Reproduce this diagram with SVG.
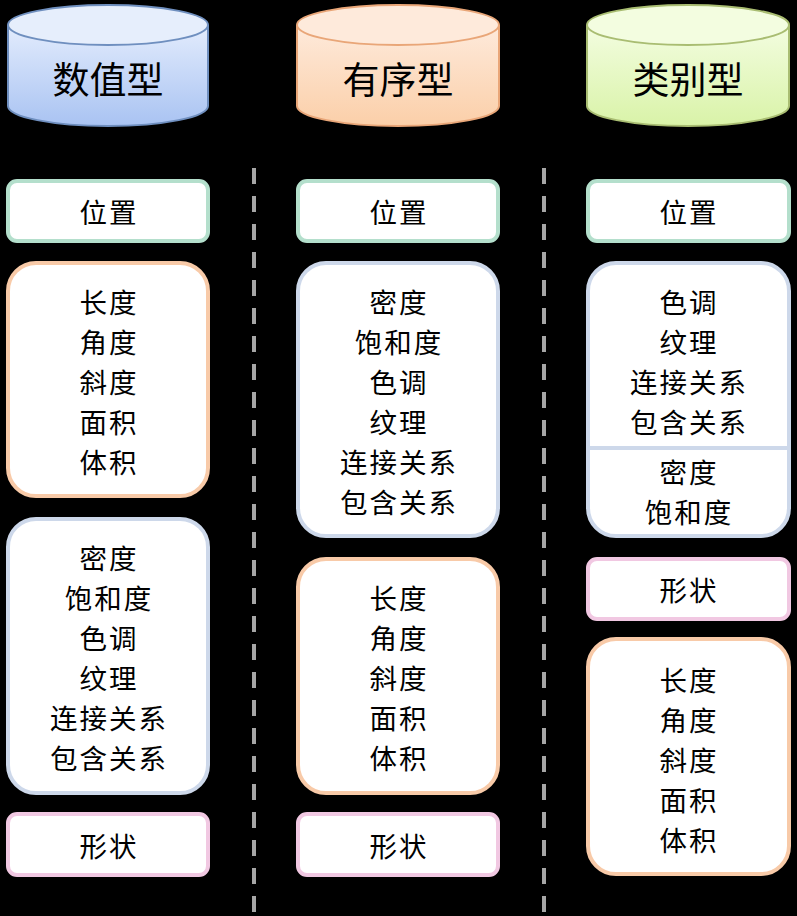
<svg xmlns="http://www.w3.org/2000/svg" width="797" height="916" viewBox="0 0 797 916">
<defs>
<linearGradient id="gBlue" x1="0" y1="0" x2="0" y2="1"><stop offset="0" stop-color="#e3ecfd"/><stop offset="1" stop-color="#a9c3f2"/></linearGradient>
<linearGradient id="gOrange" x1="0" y1="0" x2="0" y2="1"><stop offset="0" stop-color="#feeadb"/><stop offset="1" stop-color="#fbcfa9"/></linearGradient>
<linearGradient id="gGreen" x1="0" y1="0" x2="0" y2="1"><stop offset="0" stop-color="#f3fde0"/><stop offset="1" stop-color="#d9f3a8"/></linearGradient>
<style>
text{font-family:"Noto Sans CJK SC","Noto Sans",sans-serif;fill:#000;text-anchor:middle;dominant-baseline:central}
.t{font-size:27.5px;letter-spacing:2px}
.h{font-size:37px}
.box{fill:#fff;stroke-width:4}
.g{stroke:#b4dfcc}
.o{stroke:#f8caa8}
.b{stroke:#cdd8ea}
.p{stroke:#f1c8e2}
.dash{stroke:#a6a6a6;stroke-width:4;stroke-dasharray:16 12;fill:none}
</style>
</defs>
<rect width="797" height="916" fill="#000"/>
<g id="connectors">
<line class="dash" x1="254" y1="168" x2="254" y2="912"/>
<line class="dash" x1="544" y1="168" x2="544" y2="912"/>
</g>
<g id="cyl-numeric">
<path d="M8,25 V106 A100,20 0 0 0 208,106 V25" fill="url(#gBlue)" stroke="#6f8fbf" stroke-width="2"/>
<ellipse cx="108" cy="25" rx="100" ry="20" fill="#e6eefc" stroke="#6f8fbf" stroke-width="2"/>
<text class="h" x="108" y="78">数值型</text>
</g>
<g id="cyl-ordinal">
<path d="M297,25 V106 A101,20 0 0 0 499,106 V25" fill="url(#gOrange)" stroke="#e9a678" stroke-width="2"/>
<ellipse cx="398" cy="25" rx="101" ry="20" fill="#feeadb" stroke="#e9a678" stroke-width="2"/>
<text class="h" x="398" y="78">有序型</text>
</g>
<g id="cyl-categorical">
<path d="M587,25 V106 A101,20 0 0 0 789,106 V25" fill="url(#gGreen)" stroke="#a9bd72" stroke-width="2"/>
<ellipse cx="688" cy="25" rx="101" ry="20" fill="#f3fde0" stroke="#a9bd72" stroke-width="2"/>
<text class="h" x="688" y="78">类别型</text>
</g>

<g id="c1-position">
<rect class="box g" x="8" y="181" width="200" height="60" rx="9"/>
<text class="t" x="109" y="211">位置</text>
</g>
<g id="c1-length">
<rect class="box o" x="8" y="263" width="200" height="233" rx="28"/>
<text class="t" x="109" y="301">长度</text>
<text class="t" x="109" y="341">角度</text>
<text class="t" x="109" y="381">斜度</text>
<text class="t" x="109" y="421">面积</text>
<text class="t" x="109" y="461">体积</text>
</g>
<g id="c1-density">
<rect class="box b" x="8" y="519" width="200" height="274" rx="28"/>
<text class="t" x="109" y="557">密度</text>
<text class="t" x="109" y="597">饱和度</text>
<text class="t" x="109" y="637">色调</text>
<text class="t" x="109" y="677">纹理</text>
<text class="t" x="109" y="717">连接关系</text>
<text class="t" x="109" y="757">包含关系</text>
</g>
<g id="c1-shape">
<rect class="box p" x="8" y="814" width="200" height="61" rx="9"/>
<text class="t" x="109" y="845">形状</text>
</g>

<g id="c2-position">
<rect class="box g" x="298" y="181" width="200" height="60" rx="9"/>
<text class="t" x="399" y="211">位置</text>
</g>
<g id="c2-density">
<rect class="box b" x="298" y="263" width="200" height="273" rx="28"/>
<text class="t" x="399" y="301">密度</text>
<text class="t" x="399" y="341">饱和度</text>
<text class="t" x="399" y="381">色调</text>
<text class="t" x="399" y="421">纹理</text>
<text class="t" x="399" y="461">连接关系</text>
<text class="t" x="399" y="501">包含关系</text>
</g>
<g id="c2-length">
<rect class="box o" x="298" y="559" width="200" height="234" rx="28"/>
<text class="t" x="399" y="597">长度</text>
<text class="t" x="399" y="637">角度</text>
<text class="t" x="399" y="677">斜度</text>
<text class="t" x="399" y="717">面积</text>
<text class="t" x="399" y="757">体积</text>
</g>
<g id="c2-shape">
<rect class="box p" x="298" y="814" width="200" height="61" rx="9"/>
<text class="t" x="399" y="845">形状</text>
</g>

<g id="c3-position">
<rect class="box g" x="588" y="181" width="201" height="60" rx="9"/>
<text class="t" x="689" y="211">位置</text>
</g>
<g id="c3-hue">
<rect class="box b" x="588" y="263" width="201" height="273" rx="28"/>
<line x1="590" y1="448" x2="787" y2="448" stroke="#cdd8ea" stroke-width="4"/>
<text class="t" x="689" y="301">色调</text>
<text class="t" x="689" y="341">纹理</text>
<text class="t" x="689" y="381">连接关系</text>
<text class="t" x="689" y="421">包含关系</text>
<text class="t" x="689" y="471">密度</text>
<text class="t" x="689" y="511">饱和度</text>
</g>
<g id="c3-shape">
<rect class="box p" x="588" y="559" width="201" height="60" rx="9"/>
<text class="t" x="689" y="589">形状</text>
</g>
<g id="c3-length">
<rect class="box o" x="588" y="639" width="201" height="235" rx="28"/>
<text class="t" x="689" y="679">长度</text>
<text class="t" x="689" y="719">角度</text>
<text class="t" x="689" y="759">斜度</text>
<text class="t" x="689" y="799">面积</text>
<text class="t" x="689" y="839">体积</text>
</g>
</svg>
